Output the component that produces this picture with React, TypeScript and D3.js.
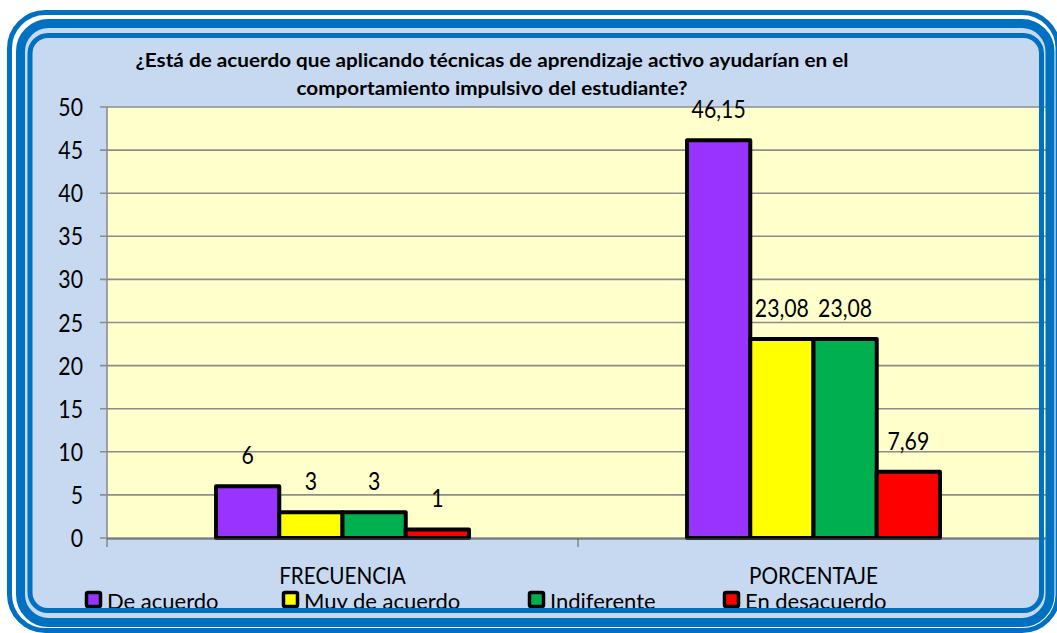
import * as d3 from 'd3';

const categories = ['FRECUENCIA', 'PORCENTAJE'];
const series = ['De acuerdo', 'Muy de acuerdo', 'Indiferente', 'En desacuerdo'];
const frecuencia = [6, 3, 3, 1];
const porcentaje = [46.15, 23.08, 23.08, 7.69];
const titleLines = [
  '¿Está de acuerdo que aplicando técnicas de aprendizaje activo ayudarían en el',
  'comportamiento impulsivo del estudiante?',
];

const colors = ['#9933ff', '#ffff00', '#00b050', '#ff0000'];
const BLUE = '#0070c0';
const BG = '#c6d9f1';
const PLOT = '#ffffcc';
const GRID = '#8c8c8c';
const FONT = 'Lato, "Open Sans", sans-serif';

const W = 1057;
const H = 633;
const plot = { left: 107, right: 1049, top: 107, bottom: 538 };

const fmt = (v: number) => String(v).replace('.', ',');

function STxt(props: {
  x: number; y: number; size: number; sx?: number; anchor?: string;
  weight?: string; children: string;
}) {
  const { x, y, size, sx = 0.85, anchor = 'middle', weight = 'normal', children } = props;
  return (
    <text
      transform={`translate(${x},${y}) scale(${sx},1)`}
      textAnchor={anchor}
      fontFamily={FONT}
      fontSize={size}
      fontWeight={weight}
      fill="#000"
    >
      {children}
    </text>
  );
}

export default function App() {
  const values = [frecuencia, porcentaje];

  const x0 = d3.scaleBand<string>().domain(categories).range([plot.left, plot.right]);
  const groupW = x0.bandwidth() * 0.537;
  const x1 = d3.scaleBand<string>().domain(series).range([0, groupW]);
  const offset = (x0.bandwidth() - groupW) / 2;

  const y = d3.scaleLinear().domain([0, 50]).range([plot.bottom, plot.top]);
  const yTicks = y.ticks(10);

  const legendX = [85, 282, 528, 723];

  return (
    <svg width={W} height={H} style={{ position: 'absolute', left: 0, top: 0, background: '#fff' }}>
      {/* background panel */}
      <rect x={20.5} y={23.5} width={1029.5} height={599} rx={26} fill={BG} />

      {/* plot area */}
      <rect x={plot.left} y={plot.top} width={plot.right - plot.left} height={plot.bottom - plot.top} fill={PLOT} />

      {/* gridlines + y ticks */}
      {yTicks.map(t => (
        <g key={t}>
          <line x1={plot.left - 7} x2={plot.right} y1={y(t)} y2={y(t)} stroke={GRID} strokeWidth={1.6} />
          <STxt x={83} y={y(t) + 9} size={25} anchor="end">{String(t)}</STxt>
        </g>
      ))}
      <line x1={plot.left} x2={plot.left} y1={plot.top} y2={plot.bottom + 9} stroke={GRID} strokeWidth={1.6} />
      {categories.map(c => (
        <line key={c} x1={(x0(c) ?? 0) + x0.bandwidth()} x2={(x0(c) ?? 0) + x0.bandwidth()}
          y1={plot.bottom} y2={plot.bottom + 9} stroke={GRID} strokeWidth={1.6} />
      ))}

      {/* bars */}
      {categories.map((c, ci) => (
        <g key={c}>
          {series.map((s, si) => {
            const v = values[ci][si];
            const bx = (x0(c) ?? 0) + offset + (x1(s) ?? 0);
            return (
              <rect key={s} x={bx} y={y(v)} width={x1.bandwidth()} height={y(0) - y(v)}
                fill={colors[si]} stroke="#000" strokeWidth={4} strokeLinejoin="round" />
            );
          })}
        </g>
      ))}
      <line x1={plot.left} x2={plot.right} y1={plot.bottom + 1} y2={plot.bottom + 1} stroke="#555" strokeWidth={1.2} />

      {/* data labels */}
      {categories.map((c, ci) =>
        series.map((s, si) => {
          const v = values[ci][si];
          const cx = (x0(c) ?? 0) + offset + (x1(s) ?? 0) + x1.bandwidth() / 2;
          return <STxt key={c + s} x={cx} y={y(v) - 22} size={25}>{fmt(v)}</STxt>;
        })
      )}

      {/* category labels */}
      {categories.map(c => (
        <STxt key={c} x={(x0(c) ?? 0) + x0.bandwidth() / 2} y={584} size={23} sx={0.9}>{c}</STxt>
      ))}

      {/* title */}
      {titleLines.map((line, i) => (
        <text key={i} x={492} y={67 + i * 28} textAnchor="middle" fontFamily={FONT} fontWeight="bold"
          fontSize={19.5} textLength={i === 0 ? 713 : 391} lengthAdjust="spacingAndGlyphs">
          {line}
        </text>
      ))}

      {/* legend */}
      {series.map((s, i) => (
        <g key={s}>
          <rect x={legendX[i] + 1.5} y={592.5} width={14} height={14} rx={1.5} fill={colors[i]} stroke="#000" strokeWidth={3.5} />
          <STxt x={legendX[i] + 22} y={609} size={22} sx={1} anchor="start">{s}</STxt>
        </g>
      ))}

      {/* frame rings */}
      <rect x={9.5} y={12.5} width={1048.5} height={618} rx={36} fill="none" stroke={BLUE} strokeWidth={5} />
      <rect x={20.5} y={23.5} width={1029.5} height={599} rx={28} fill="none" stroke={BLUE} strokeWidth={9} />
      <rect x={30} y={35.5} width={1011.5} height={575} rx={18} fill="none" stroke={BLUE} strokeWidth={5} />
    </svg>
  );
}
